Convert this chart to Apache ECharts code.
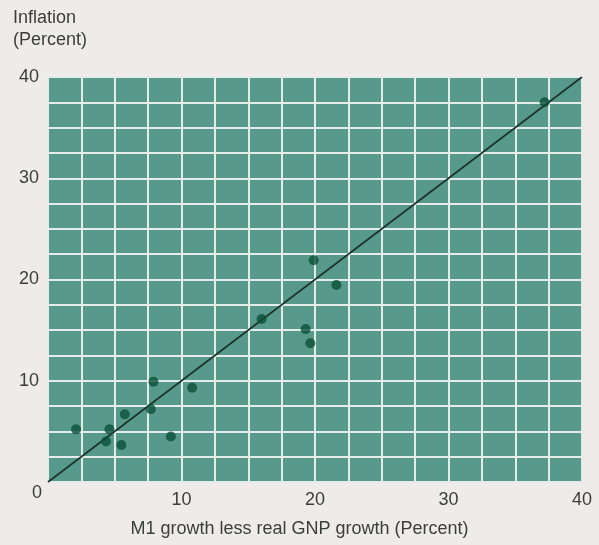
<!DOCTYPE html>
<html>
<head>
<meta charset="utf-8">
<style>
html,body{margin:0;padding:0;background:#eeebe8;}
#chart{width:599px;height:545px;}
</style>
<script src="https://cdn.jsdelivr.net/npm/echarts@6/dist/echarts.min.js"></script>
</head>
<body>
<div id="chart"></div>
<script>
// M1 growth less real GNP growth (x) vs inflation (y), percent
const xValues = [2.1, 4.6, 4.35, 5.5, 5.75, 7.9, 7.7, 9.2, 10.8, 16.0, 19.3, 19.65, 19.9, 21.6, 37.2];
const yValues = [5.2, 5.2, 4.0, 3.65, 6.7, 9.9, 7.2, 4.5, 9.3, 16.1, 15.1, 13.7, 21.9, 19.45, 37.5];
const refLine = [[0, 0], [40, 40]];
const tickLabels = [10, 20, 30, 40];

const points = xValues.map((x, i) => [x, yValues[i]]);
const textColor = '#3a3f3c';
const font = 'Liberation Sans, Arial, sans-serif';

const chart = echarts.init(document.getElementById('chart'));
const axisCommon = {
  type: 'value', min: 0, max: 40, interval: 2.5,
  axisLine: {show: false}, axisTick: {show: false},
  splitLine: {show: true, lineStyle: {color: '#e3ece8', width: 2}},
  axisLabel: {
    color: textColor, fontSize: 18, fontFamily: font,
    formatter: v => (tickLabels.indexOf(v) >= 0 ? String(v) : '')
  }
};
chart.setOption({
  backgroundColor: '#eeebe8',
  animation: false,
  grid: {left: 48, top: 77, right: 17, bottom: 63, show: true, backgroundColor: '#57998a', borderWidth: 0},
  xAxis: Object.assign({}, axisCommon, {
    axisLabel: Object.assign({}, axisCommon.axisLabel, {margin: 9, showMaxLabel: true})
  }),
  yAxis: Object.assign({}, axisCommon, {
    axisLabel: Object.assign({}, axisCommon.axisLabel, {margin: 9})
  }),
  graphic: [
    {type: 'text', left: 13, top: 9, style: {text: 'Inflation', fill: textColor, font: '18px ' + font}},
    {type: 'text', left: 13, top: 31, style: {text: '(Percent)', fill: textColor, font: '18px ' + font}},
    {type: 'text', left: 32, top: 484, style: {text: '0', fill: textColor, font: '18px ' + font}},
    {type: 'text', left: 'center', top: 520, style: {text: 'M1 growth less real GNP growth (Percent)', fill: textColor, font: '18px ' + font}}
  ],
  series: [
    {type: 'line', data: refLine, symbol: 'none', lineStyle: {color: '#1a332b', width: 1.6}, z: 2},
    {type: 'scatter', data: points, symbolSize: 10, itemStyle: {color: '#0b5038'}, z: 3}
  ]
});
</script>
</body>
</html>
